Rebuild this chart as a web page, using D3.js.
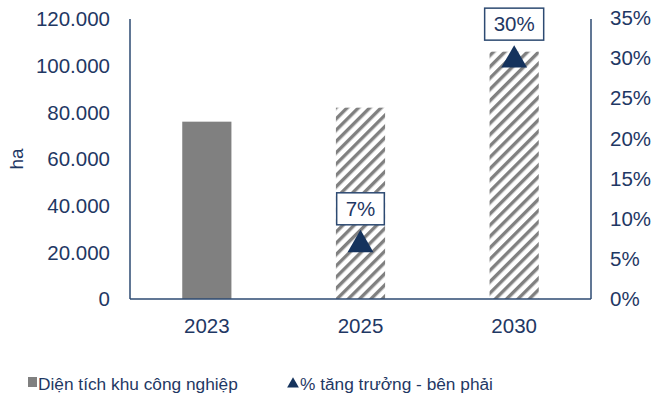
<!DOCTYPE html>
<html>
<head>
<meta charset="utf-8">
<script src="https://cdn.jsdelivr.net/npm/d3@7"></script>
<style>
  html, body { margin: 0; padding: 0; background: #fff; }
  svg { display: block; font-family: "Liberation Sans", Arial, sans-serif; }
</style>
</head>
<body>
<svg id="chart" width="652" height="398"></svg>
<script>
// Industrial park area (ha) and growth rate (%)
const years = ["2023", "2025", "2030"];
const areaHa = [76000, 82000, 106000];
const growthPct = [null, 7, 30];
const growthLabels = [null, "7%", "30%"];
const leftTicks = [0, 20000, 40000, 60000, 80000, 100000, 120000];
const rightTicks = [0, 5, 10, 15, 20, 25, 30, 35];
const legendLabels = ["Diện tích khu công nghiệp", "% tăng trưởng - bên phải"];

const navy = "#1f3864";
const axisColor = "#2d4a72";
const barGray = "#808080";
const markerColor = "#15335d";
const fs = 20.5;

const svg = d3.select("#chart");
const margin = { left: 130, right: 61, top: 19, bottom: 99 };
const W = 652, H = 398;
const x0 = margin.left, x1 = W - margin.right;
const y0 = H - margin.bottom, y1 = margin.top;

const x = d3.scaleBand().domain(years).range([x0, x1]).paddingInner(0.68).paddingOuter(0.34);
const yL = d3.scaleLinear().domain([0, 120000]).range([y0, y1]);
const yR = d3.scaleLinear().domain([0, 35]).range([y0, y1 - 1]);

// diagonal hatch for projected years
const defs = svg.append("defs");
const pat = defs.append("pattern")
  .attr("id", "hatch")
  .attr("patternUnits", "userSpaceOnUse")
  .attr("width", 8).attr("height", 8)
  .attr("patternTransform", "rotate(45)");
pat.append("rect").attr("width", 8).attr("height", 8).attr("fill", "#fff");
pat.append("rect").attr("x", 0).attr("y", 0).attr("width", 3.4).attr("height", 8).attr("fill", barGray);

const fmt = d => d === 0 ? "0" : d3.format(",")(d).replace(/,/g, ".");

// left axis labels
svg.append("g").selectAll("text").data(leftTicks).join("text")
  .attr("x", 110).attr("y", d => yL(d))
  .attr("dy", "0.35em").attr("text-anchor", "end")
  .attr("font-size", fs).attr("fill", navy)
  .text(fmt);

// right axis labels
svg.append("g").selectAll("text").data(rightTicks).join("text")
  .attr("x", 610).attr("y", d => yR(d))
  .attr("dy", "0.35em").attr("text-anchor", "start")
  .attr("font-size", fs).attr("fill", navy)
  .text(d => d + "%");

// axis title
svg.append("text")
  .attr("transform", `translate(23,${(y0 + y1) / 2}) rotate(-90)`)
  .attr("text-anchor", "middle")
  .attr("font-size", 19).attr("fill", navy)
  .text("ha");

// bars
svg.append("g").selectAll("rect").data(years).join("rect")
  .attr("x", d => x(d))
  .attr("width", x.bandwidth())
  .attr("y", (d, i) => yL(areaHa[i]))
  .attr("height", (d, i) => yL(0) - yL(areaHa[i]))
  .attr("fill", (d, i) => i === 0 ? barGray : "url(#hatch)");

// axis lines
const axes = svg.append("g").attr("stroke", axisColor).attr("stroke-width", 1.5).attr("fill", "none");
axes.append("line").attr("x1", x0).attr("x2", x0).attr("y1", y1).attr("y2", y0);
axes.append("line").attr("x1", x1).attr("x2", x1).attr("y1", y1).attr("y2", y0);
axes.append("line").attr("x1", x0).attr("x2", x1).attr("y1", y0).attr("y2", y0);

// category labels
svg.append("g").selectAll("text").data(years).join("text")
  .attr("x", d => x(d) + x.bandwidth() / 2).attr("y", 333)
  .attr("text-anchor", "middle")
  .attr("font-size", fs).attr("fill", navy)
  .text(d => d);

// growth markers
const tri = d3.symbol().type(d3.symbolTriangle).size(290);
const pts = years.map((d, i) => ({ year: d, v: growthPct[i], label: growthLabels[i] })).filter(p => p.v !== null);
svg.append("g").selectAll("path").data(pts).join("path")
  .attr("d", tri)
  .attr("transform", p => `translate(${x(p.year) + x.bandwidth() / 2},${yR(p.v) + 2})`)
  .attr("fill", markerColor);

// value labels in boxes
const lbl = svg.append("g").selectAll("g").data(pts).join("g")
  .attr("transform", p => `translate(${x(p.year) + x.bandwidth() / 2},${yR(p.v) - 34})`);
lbl.append("text")
  .attr("text-anchor", "middle").attr("dy", "0.35em")
  .attr("font-size", fs).attr("fill", navy)
  .text(p => p.label)
  .each(function () {
    const b = this.getBBox();
    d3.select(this.parentNode).insert("rect", "text")
      .attr("x", b.x - 9).attr("y", -16)
      .attr("width", b.width + 18).attr("height", 32)
      .attr("fill", "#fff").attr("stroke", axisColor).attr("stroke-width", 1.5);
  });

// legend
const leg = svg.append("g");
leg.append("rect").attr("x", 28).attr("y", 377).attr("width", 9).attr("height", 10).attr("fill", barGray);
leg.append("text").attr("x", 38).attr("y", 390).attr("font-size", 17.3).attr("fill", navy).text(legendLabels[0]);
leg.append("path").attr("d", d3.symbol().type(d3.symbolTriangle).size(60))
  .attr("transform", "translate(293,384)").attr("fill", markerColor);
leg.append("text").attr("x", 300).attr("y", 390).attr("font-size", 17.3).attr("fill", navy).text(legendLabels[1]);
</script>
</body>
</html>
